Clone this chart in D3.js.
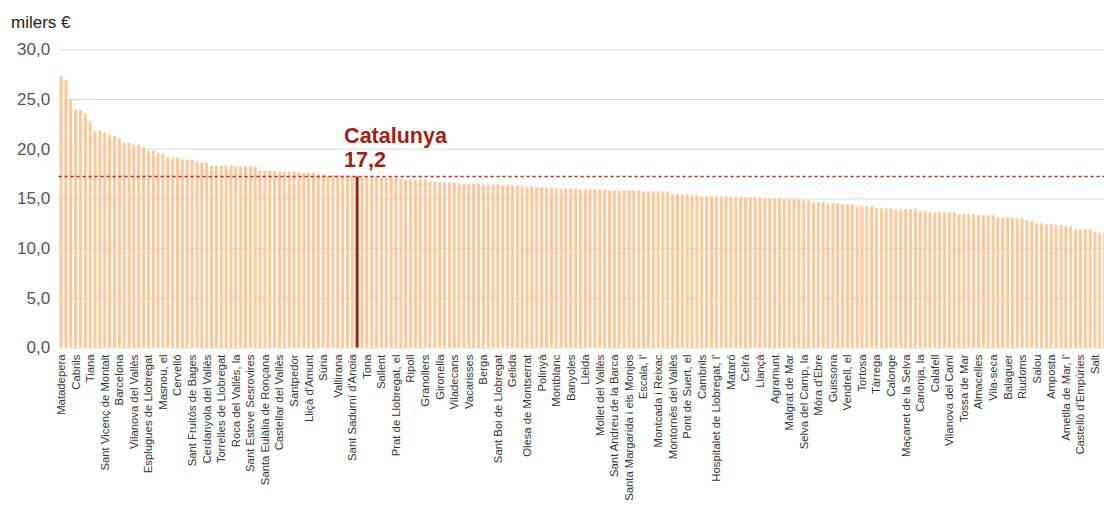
<!DOCTYPE html>
<html>
<head>
<meta charset="utf-8">
<script src="https://cdn.jsdelivr.net/npm/d3@7"></script>
<style>
    body { margin: 0; background: #fff; overflow: hidden; }
    svg { display: block; font-family: "Liberation Sans", Arial, sans-serif; }
    .grid line { stroke: #dcdcdc; }
    .grid .domain { display: none; }
    .y.axis text { fill: #555; font-size: 17px; }
    .x.axis text { fill: #333; font-size: 11.3px; }
    .axis .domain, .axis line { display: none; }
</style>
</head>
<body>
<svg class="chart"></svg>
<script>
// renda per habitant, milers d'euros (ordenat de més a menys)
const values = [
    27.3, 26.9, 25.0, 23.9, 23.9, 23.5, 22.7, 21.8, 21.8, 21.6,
    21.4, 21.3, 21.0, 20.6, 20.6, 20.4, 20.4, 20.1, 19.8, 19.8,
    19.6, 19.5, 19.2, 19.1, 19.1, 18.9, 18.9, 18.9, 18.7, 18.6,
    18.6, 18.3, 18.3, 18.3, 18.3, 18.3, 18.2, 18.2, 18.2, 18.2,
    18.2, 17.8, 17.8, 17.8, 17.8, 17.7, 17.7, 17.7, 17.7, 17.7,
    17.6, 17.6, 17.6, 17.4, 17.4, 17.3, 17.3, 17.3, 17.3, 17.3,
    17.3, 17.2, 17.2, 17.2, 17.2, 17.2, 17.1, 17.1, 17.1, 17.1,
    17.0, 16.9, 16.9, 16.9, 16.9, 16.9, 16.7, 16.7, 16.6, 16.6,
    16.6, 16.6, 16.5, 16.5, 16.5, 16.5, 16.5, 16.4, 16.4, 16.4,
    16.4, 16.3, 16.3, 16.3, 16.3, 16.2, 16.2, 16.2, 16.1, 16.1,
    16.1, 16.1, 16.0, 16.0, 16.0, 16.0, 16.0, 15.9, 15.9, 15.9,
    15.9, 15.9, 15.9, 15.8, 15.8, 15.8, 15.8, 15.8, 15.8, 15.8,
    15.7, 15.7, 15.7, 15.7, 15.7, 15.7, 15.4, 15.4, 15.4, 15.4,
    15.3, 15.3, 15.2, 15.2, 15.2, 15.2, 15.2, 15.2, 15.1, 15.1,
    15.1, 15.1, 15.1, 15.1, 15.1, 15.0, 15.0, 15.0, 15.0, 14.9,
    14.9, 14.9, 14.9, 14.8, 14.8, 14.6, 14.6, 14.6, 14.5, 14.5,
    14.5, 14.4, 14.4, 14.4, 14.2, 14.2, 14.2, 14.2, 14.0, 14.0,
    14.0, 14.0, 13.9, 13.9, 13.9, 13.9, 13.9, 13.7, 13.7, 13.6,
    13.6, 13.6, 13.6, 13.6, 13.6, 13.4, 13.4, 13.4, 13.4, 13.3,
    13.3, 13.3, 13.3, 13.1, 13.1, 13.1, 13.0, 13.0, 13.0, 12.8,
    12.7, 12.5, 12.5, 12.4, 12.4, 12.3, 12.3, 12.2, 12.2, 11.9,
    11.9, 11.9, 11.9, 11.6, 11.5, 11.5, 11.4
];

// noms visibles a l'eix (un de cada tres municipis)
const tickNames = [
    "Matadepera", "Cabrils", "Tiana", "Sant Vicenç de Montalt", "Barcelona",
    "Vilanova del Vallès", "Esplugues de Llobregat", "Masnou, el", "Cervelló",
    "Sant Fruitós de Bages", "Cerdanyola del Vallès", "Torrelles de Llobregat",
    "Roca del Vallès, la", "Sant Esteve Sesrovires", "Santa Eulàlia de Ronçana",
    "Castellar del Vallès", "Santpedor", "Lliçà d'Amunt", "Súria", "Vallirana",
    "Sant Sadurní d'Anoia", "Tona", "Sallent", "Prat de Llobregat, el", "Ripoll",
    "Granollers", "Gironella", "Viladecans", "Vacarisses", "Berga",
    "Sant Boi de Llobregat", "Gelida", "Olesa de Montserrat", "Polinyà",
    "Montblanc", "Banyoles", "Lleida", "Mollet del Vallès",
    "Sant Andreu de la Barca", "Santa Margarida i els Monjos", "Escala, l'",
    "Montcada i Reixac", "Montornès del Vallès", "Pont de Suert, el", "Cambrils",
    "Hospitalet de Llobregat, l'", "Mataró", "Celrà", "Llançà", "Agramunt",
    "Malgrat de Mar", "Selva del Camp, la", "Móra d'Ebre", "Guissona",
    "Vendrell, el", "Tortosa", "Tàrrega", "Calonge", "Maçanet de la Selva",
    "Canonja, la", "Calafell", "Vilanova del Camí", "Tossa de Mar", "Almacelles",
    "Vila-seca", "Balaguer", "Riudoms", "Salou", "Amposta", "Ametlla de Mar, l'",
    "Castelló d'Empúries", "Salt"
];
const tickEvery = 3;

const catalunyaIndex = 61;
const catalunyaValue = 17.2;
const catalunyaLabel = "Catalunya";

const yTicks = [0, 5, 10, 15, 20, 25, 30];

class Chart {
    constructor(){
        this.margin = {top: 49.3, left: 58.6};
        this.step = 4.854;
        this.chartWidth = 1104;
        this.chartHeight = 510;
        this.height = 298.2;
        this.width = this.step * values.length;

        this.x = d3.scaleBand()
            .domain(d3.range(values.length))
            .range([0, this.width])
            .paddingInner(0.38)
            .paddingOuter(0.19);
        this.y = d3.scaleLinear().domain([0, 30]).range([this.height, 0]);

        this.svg = d3.select(".chart")
            .attr("width", this.chartWidth)
            .attr("height", this.chartHeight);
        this.svg.append("text")
            .attr("x", 11).attr("y", 28)
            .attr("font-size", 17).attr("fill", "#222")
            .text("milers €");

        this.chart = this.svg.append("g")
            .attr("transform", "translate(" + this.margin.left + "," + this.margin.top + ")");

        this.addGrid();
        this.drawBars();
        this.addAxis();
        this.addAverage();
    }

    addGrid(){
        this.chart.append("g")
            .attr("class", "grid")
            .call(d3.axisLeft(this.y).tickValues(yTicks).tickSize(-this.chartWidth).tickFormat(""));

        this.chart.append("g")
            .attr("class", "y axis")
            .attr("transform", "translate(-8.5,0)")
            .call(d3.axisLeft(this.y).tickValues(yTicks).tickSize(0).tickPadding(0)
                .tickFormat(d => d3.format(".1f")(d).replace(".", ",")));
    }

    drawBars(){
        this.chart.selectAll(".bar")
            .data(values)
            .enter().append("rect")
            .attr("class", "bar")
            .attr("x", (d, i) => this.x(i))
            .attr("y", (d) => this.y(d))
            .attr("width", this.x.bandwidth())
            .attr("height", (d) => this.height - this.y(d))
            .attr("fill", (d, i) => i === catalunyaIndex ? "#a51d0f" : "#ffc898");
    }

    addAxis(){
        const ticks = d3.range(0, tickNames.length * tickEvery, tickEvery);
        const xAxis = d3.axisBottom(this.x)
            .tickValues(ticks)
            .tickSize(0)
            .tickFormat((d) => tickNames[d / tickEvery]);
        this.chart.append("g")
            .attr("class", "x axis")
            .attr("transform", "translate(0," + this.height + ")")
            .call(xAxis)
            .selectAll("text")
            .attr("transform", "rotate(-90)")
            .attr("x", -7)
            .attr("y", 0)
            .attr("dy", ".35em")
            .style("text-anchor", "end");
    }

    addAverage(){
        const yAvg = this.y(catalunyaValue);
        this.chart.append("line")
            .attr("x1", 0).attr("x2", this.chartWidth)
            .attr("y1", yAvg).attr("y2", yAvg)
            .attr("stroke", "#b3261a")
            .attr("stroke-width", 1.5)
            .attr("stroke-dasharray", "3,3");

        const cx = this.x(catalunyaIndex) + this.x.bandwidth() / 2;
        const label = this.chart.append("g")
            .attr("fill", "#a51d0f")
            .attr("font-weight", "bold")
            .attr("font-size", 21.5);
        label.append("text").attr("x", cx - 13).attr("y", yAvg - 34).text(catalunyaLabel);
        label.append("text").attr("x", cx - 13).attr("y", yAvg - 10)
            .text(d3.format(".1f")(catalunyaValue).replace(".", ","));
    }
}

new Chart();
</script>
</body>
</html>
